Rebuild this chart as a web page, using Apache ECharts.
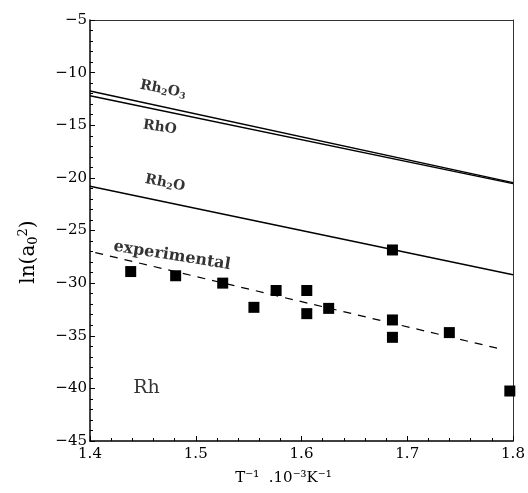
<!DOCTYPE html>
<html><head><meta charset="utf-8">
<script src="https://cdn.jsdelivr.net/npm/echarts@6/dist/echarts.min.js"></script>
<style>html,body{margin:0;padding:0;background:#fff}#c{width:528px;height:493px}</style>
</head><body><div id="c"></div>
<script>
// Data
const expT = [1.4385, 1.481, 1.5255, 1.555, 1.576, 1.605, 1.605, 1.6257, 1.686, 1.686, 1.686, 1.7398, 1.797];
const expV = [-28.9, -29.3, -30.0, -32.3, -30.7, -30.7, -32.9, -32.4, -26.85, -33.5, -35.15, -34.7, -40.25];
const rh2o3Line = [[1.4, -11.75], [1.8, -20.45]];
const rhoLine = [[1.4, -12.2], [1.8, -20.55]];
const rh2oLine = [[1.4, -20.8], [1.8, -29.2]];
const expFit = [[1.405, -27.1], [1.79, -36.3]];
const labelNames = ['Rh2O3', 'RhO', 'Rh2O', 'experimental', 'Rh'];
const labelT = [1.469, 1.466, 1.471, 1.4776, 1.4535];
const labelV = [-11.6, -15.2, -20.5, -27.4, -40.0];
const labelRot = [-11, -8, -11, -9, 0];
const labelText = ['Rh{s|2}O{s|3}', 'RhO', 'Rh{s|2}O', 'experimental', 'Rh'];
const yTicks = [-45, -40, -35, -30, -25, -20, -15, -10, -5];
const xTicks = [1.4, 1.5, 1.6, 1.7, 1.8];

const F = '"DejaVu Serif", serif';
const chart = echarts.init(document.getElementById('c'), null, {renderer: 'canvas'});
const lineStyle = {color: '#000', width: 1.4};
const fmtY = v => (v < 0 ? '\u2212' + Math.abs(v) : String(v));

const labelData = labelNames.map((n, i) => ({
  value: [labelT[i], labelV[i]],
  label: {
    show: true, position: 'inside', formatter: labelText[i], rotate: labelRot[i],
    color: '#000', fontFamily: F, fontWeight: i === 4 ? 'normal' : 'bold',
    fontSize: i === 4 ? 19 : (i === 3 ? 16 : 14),
    rich: {s: {fontFamily: F, fontWeight: 'bold', fontSize: 9, verticalAlign: 'bottom', padding: [6, 0, 0, 0]}}
  }
}));

chart.setOption({
  animation: false,
  grid: {left: 90, right: 15, top: 20, bottom: 52},
  xAxis: [{
    type: 'value', min: xTicks[0], max: xTicks[xTicks.length - 1], interval: 0.1,
    name: 'T\u207B\u00B9  .10\u207B\u00B3K\u207B\u00B9', nameLocation: 'middle', nameGap: 30,
    nameTextStyle: {fontFamily: F, fontSize: 15, color: '#000', padding: [0, 36, 0, 0]},
    axisLine: {lineStyle: {color: '#000', width: 1.5}},
    axisTick: {inside: true, length: 5, lineStyle: {color: '#000'}},
    minorTick: {show: true, splitNumber: 5, length: 3, lineStyle: {color: '#000'}},
    splitLine: {show: false},
    axisLabel: {fontFamily: F, fontSize: 15, color: '#000', margin: 6, formatter: v => v.toFixed(1)}
  }, {
    type: 'value', min: xTicks[0], max: xTicks[xTicks.length - 1], interval: 0.1, position: 'top',
    axisLine: {lineStyle: {color: '#333', width: 1}},
    axisTick: {show: false}, axisLabel: {show: false}, splitLine: {show: false}
  }],
  yAxis: [{
    type: 'value', min: yTicks[0], max: yTicks[yTicks.length - 1], interval: 5,
    name: 'ln(a{sub|0}{sup|2})', nameLocation: 'middle', nameGap: 50, nameRotate: 90,
    nameTextStyle: {fontFamily: F, fontSize: 20, color: '#000', padding: [0, 43, 0, 0],
      rich: {
        sub: {fontFamily: F, fontSize: 13, color: '#000', verticalAlign: 'bottom', padding: [8, 0, 0, 0]},
        sup: {fontFamily: F, fontSize: 13, color: '#000', verticalAlign: 'top', padding: [0, 0, 10, 0]}
      }},
    axisLine: {lineStyle: {color: '#000', width: 1.5}},
    axisTick: {inside: true, length: 5, lineStyle: {color: '#000'}},
    minorTick: {show: true, splitNumber: 5, length: 3, lineStyle: {color: '#000'}},
    splitLine: {show: false},
    axisLabel: {fontFamily: F, fontSize: 15, color: '#000', margin: 3, formatter: fmtY}
  }, {
    type: 'value', min: yTicks[0], max: yTicks[yTicks.length - 1], interval: 5, position: 'right',
    axisLine: {show: true, lineStyle: {color: '#333', width: 1}},
    axisTick: {show: false}, axisLabel: {show: false}, splitLine: {show: false}
  }],
  series: [
    {type: 'line', data: rh2o3Line, symbol: 'none', lineStyle},
    {type: 'line', data: rhoLine, symbol: 'none', lineStyle},
    {type: 'line', data: rh2oLine, symbol: 'none', lineStyle},
    {type: 'line', data: expFit, symbol: 'none', lineStyle: {color: '#000', width: 1.2, type: [8, 7]}},
    {type: 'scatter', data: expT.map((t, i) => [t, expV[i]]), symbol: 'rect', symbolSize: 11,
     itemStyle: {color: '#000', opacity: 1}},
    {type: 'scatter', data: labelData, symbolSize: 0, silent: true}
  ]
});
</script></body></html>
